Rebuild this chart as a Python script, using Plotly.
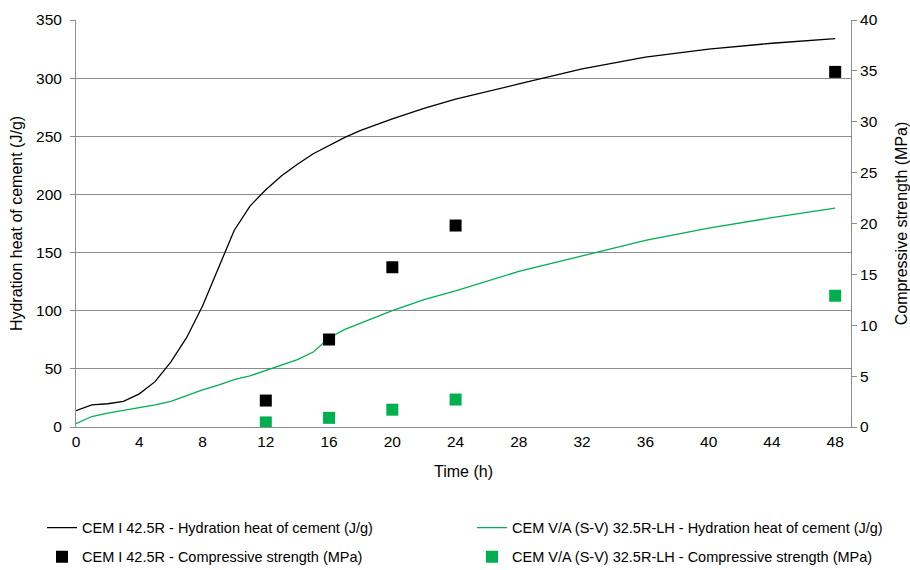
import plotly.graph_objects as go

# Hydration heat curves (J/g) vs time (h)
time_heat = [0, 1, 2, 3, 4, 5, 6, 7, 8, 9, 10, 11, 12, 13, 14, 15, 16, 17, 18,
             20, 22, 24, 28, 32, 36, 40, 44, 48]
cem1_heat = [14, 19, 20, 22, 28.5, 39, 56, 77, 104, 137, 169, 190, 204, 216, 226,
             235, 242, 249, 255, 265, 274, 282, 295, 308, 318, 325, 330, 334]
cem5_heat = [2.8, 9, 12, 14.3, 16.3, 19, 22, 27, 32, 36, 40.7, 44, 48.7, 53, 58,
             64.5, 76.5, 84, 89.4, 100, 109.5, 117, 133.8, 147, 160.5, 171, 180, 188.3]

# Compressive strength (MPa)
time_strength = [12, 16, 20, 24, 48]
cem1_strength = [2.6, 8.6, 15.7, 19.8, 34.9]
cem5_strength = [0.45, 0.9, 1.7, 2.7, 12.9]

x_ticks = [0, 4, 8, 12, 16, 20, 24, 28, 32, 36, 40, 44, 48]

names = [
    "CEM I 42.5R - Hydration heat of cement (J/g)",
    "CEM V/A (S-V) 32.5R-LH - Hydration heat of cement (J/g)",
    "CEM I 42.5R - Compressive strength (MPa)",
    "CEM V/A (S-V) 32.5R-LH - Compressive strength (MPa)",
]

BLACK = "#000000"
GREEN = "#00B050"
GRID = "#8C8C8C"
FONT = "Liberation Sans"

fig = go.Figure()
fig.add_trace(go.Scatter(x=time_heat, y=cem1_heat, mode="lines", name=names[0],
                         line=dict(color=BLACK, width=1.3), legend="legend"))
fig.add_trace(go.Scatter(x=time_heat, y=cem5_heat, mode="lines", name=names[1],
                         line=dict(color=GREEN, width=1.3), legend="legend2"))
fig.add_trace(go.Scatter(x=time_strength, y=cem1_strength, mode="markers", name=names[2],
                         marker=dict(color=BLACK, size=12, symbol="square"),
                         yaxis="y2", legend="legend3"))
fig.add_trace(go.Scatter(x=time_strength, y=cem5_strength, mode="markers", name=names[3],
                         marker=dict(color=GREEN, size=12, symbol="square"),
                         yaxis="y2", legend="legend4"))

legend_common = dict(orientation="h", xref="container", yref="container",
                     xanchor="left", yanchor="middle",
                     font=dict(family=FONT, size=14.5, color="#000000"),
                     bgcolor="rgba(0,0,0,0)", borderwidth=0)

col1, col2 = 42, 472
row1, row2 = 527.7, 556.7

fig.update_layout(
    width=910, height=570,
    margin=dict(l=76, r=59, t=20, b=143),
    paper_bgcolor="white", plot_bgcolor="white",
    font=dict(family=FONT, size=16, color="#000000"),
    showlegend=True,
    legend=dict(x=col1 / 910, y=1 - row1 / 570, **legend_common),
    legend2=dict(x=col2 / 910, y=1 - row1 / 570, **legend_common),
    legend3=dict(x=col1 / 910, y=1 - row2 / 570, **legend_common),
    legend4=dict(x=col2 / 910, y=1 - row2 / 570, **legend_common),
    xaxis=dict(
        range=[0, 49], tickmode="array", tickvals=x_ticks,
        showgrid=False, zeroline=False, automargin=False,
        showline=True, linecolor=GRID, linewidth=1,
        ticks="", tickfont=dict(family=FONT, size=15.5),
        title=dict(text="Time (h)", font=dict(family=FONT, size=16), standoff=17),
    ),
    yaxis=dict(
        range=[0, 350], tick0=0, dtick=50, automargin=False,
        showgrid=True, gridcolor=GRID, gridwidth=1, zeroline=False,
        showline=True, linecolor=GRID, linewidth=1,
        ticks="outside", ticklen=5, tickcolor=GRID, ticklabelstandoff=5,
        tickfont=dict(family=FONT, size=15.5),
        title=dict(text="Hydration heat of cement (J/g)", font=dict(family=FONT, size=16), standoff=9),
    ),
    yaxis2=dict(
        range=[0, 40], tick0=0, dtick=5, overlaying="y", side="right",
        showgrid=False, zeroline=False, automargin=False,
        showline=True, linecolor=GRID, linewidth=1,
        ticks="outside", ticklen=5, tickcolor=GRID,
        tickfont=dict(family=FONT, size=15.5),
        title=dict(text="Compressive strength (MPa)", font=dict(family=FONT, size=16), standoff=22),
    ),
)

fig.write_html("out.html", config={"displayModeBar": False},
               post_script="document.body.style.margin='0';")
